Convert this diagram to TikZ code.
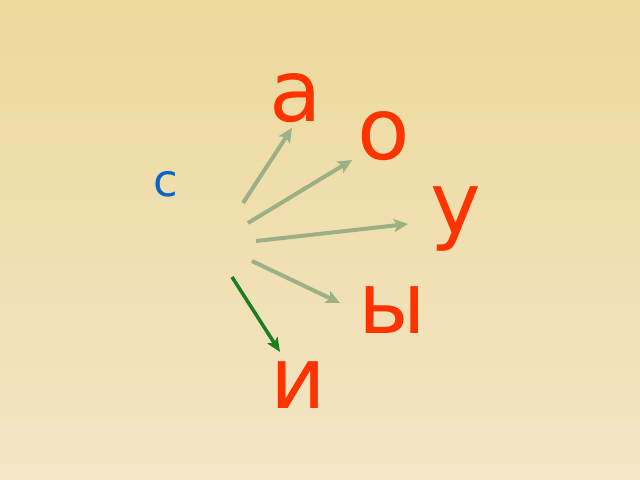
\documentclass[tikz,border=0pt]{standalone}
\usepackage{fontspec}
\newfontfamily\lett{DejaVu Sans}
\usetikzlibrary{arrows.meta}
\definecolor{bgtop}{HTML}{EDD99B}
\definecolor{bgbot}{HTML}{F3E5C6}
\definecolor{lettred}{HTML}{FF3300}
\definecolor{cblue}{HTML}{0A64C8}
\definecolor{arrgray}{HTML}{9BB085}
\definecolor{arrgreen}{HTML}{1E7D1E}
\tikzset{
  vowel/.style={anchor=base, inner sep=0pt, text=lettred, font=\lett\fontsize{86}{86}\selectfont},
  cons/.style={anchor=base, inner sep=0pt, text=cblue, font=\lett\fontsize{45}{45}\selectfont},
  grayarr/.style={draw=arrgray, line width=4bp, -{Stealth[length=14bp,width=13bp,inset=3bp]}},
  greenarr/.style={draw=arrgreen, line width=3.5bp, -{Stealth[length=14bp,width=12bp,inset=3bp]}}
}
\begin{document}
\begin{tikzpicture}[x=1bp,y=-1bp]
\shade[top color=bgtop, bottom color=bgbot] (0,0) rectangle (640,480);
\useasboundingbox (0,0) rectangle (640,480);
\node[cons] (c) at (166,196.5) {с};
\node[vowel] (a) at (295.5,122) {а};
\node[vowel] (o) at (384,160) {о};
\node[vowel] (u) at (455.5,234) {у};
\node[vowel] (y) at (392.5,333) {ы};
\node[vowel] (i) at (298.5,408) {и};
\coordinate (s1) at (243,203);
\coordinate (e1) at (292,128);
\coordinate (s2) at (248,223);
\coordinate (e2) at (352,160);
\coordinate (s3) at (256,241);
\coordinate (e3) at (408,224);
\coordinate (s4) at (252,261);
\coordinate (e4) at (340,303);
\coordinate (s5) at (232,277);
\coordinate (e5) at (280,352);
\draw[grayarr] (s1) -- (e1);
\draw[grayarr] (s2) -- (e2);
\draw[grayarr] (s3) -- (e3);
\draw[grayarr] (s4) -- (e4);
\draw[greenarr] (s5) -- (e5);
\end{tikzpicture}
\end{document}
